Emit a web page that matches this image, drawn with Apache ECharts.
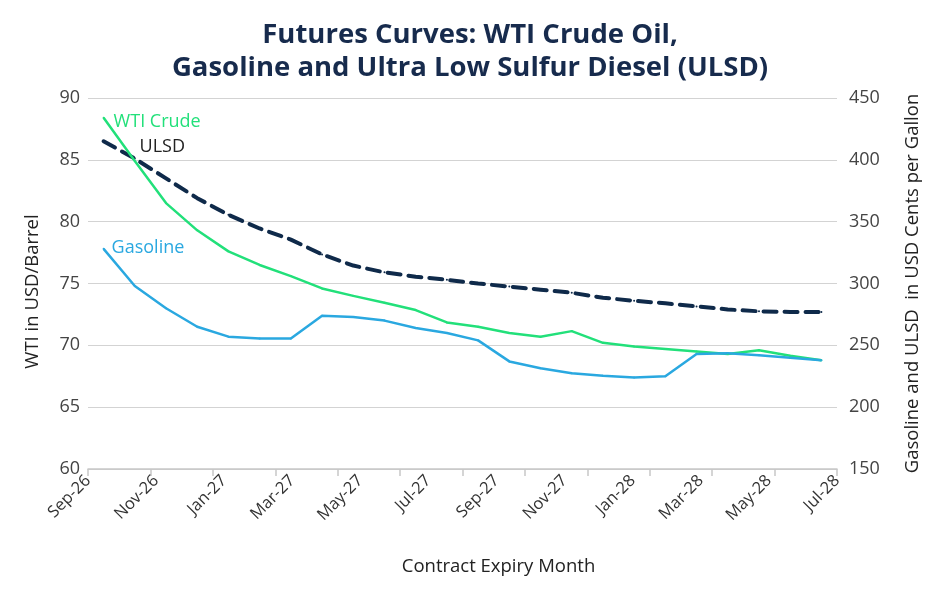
<!DOCTYPE html>
<html>
<head>
<meta charset="utf-8">
<script src="https://cdn.jsdelivr.net/npm/echarts@6/dist/echarts.min.js"></script>
<style>html,body{margin:0;padding:0;background:#fff}#c{width:940px;height:600px}</style>
</head>
<body>
<div id="c"></div>
<script>
// Contract months (data points, mid-month)
var months = ['Sep-26','Oct-26','Nov-26','Dec-26','Jan-27','Feb-27','Mar-27','Apr-27','May-27','Jun-27','Jul-27','Aug-27',
              'Sep-27','Oct-27','Nov-27','Dec-27','Jan-28','Feb-28','Mar-28','Apr-28','May-28','Jun-28','Jul-28','Aug-28'];
// Axis tick labels shown under the chart
var tickLabels = ['Sep-26','Nov-26','Jan-27','Mar-27','May-27','Jul-27','Sep-27','Nov-27','Jan-28','Mar-28','May-28','Jul-28'];
// WTI crude, USD per barrel (left axis)
var wti = [88.4,84.9,81.5,79.3,77.6,76.5,75.6,74.6,74.0,73.45,72.85,71.85,71.5,71.0,70.7,71.15,70.2,69.9,69.7,69.5,69.3,69.6,69.15,68.8];
// Gasoline, US cents per gallon (right axis)
var gasoline = [328,298,280,265,257,255.5,255.5,274,273,270,264,260,254,237,231.5,227.5,225.5,224,225,243,243.5,242,240,238];
// ULSD, US cents per gallon (right axis)
var ulsd = [415,401,385,369,355.5,344.5,335.5,323.5,314.5,309,305.5,303,300,297.5,295,292.5,288.5,286,284,281.5,279,277.5,277,277];

var FONT = '"Open Sans", "Noto Sans", sans-serif';
function startLabel(text, color, offset) {
  return {
    show: true, position: 'right', offset: offset, color: color,
    fontFamily: FONT, fontSize: 18,
    formatter: function (p) { return p.dataIndex === 0 ? text : ''; }
  };
}

var chart = echarts.init(document.getElementById('c'), null, {renderer: 'canvas'});
chart.setOption({
  animation: false,
  backgroundColor: '#ffffff',
  title: {
    text: 'Futures Curves: WTI Crude Oil,\nGasoline and Ultra Low Sulfur Diesel (ULSD)',
    left: 'center', top: 14,
    textStyle: {fontFamily: FONT, fontSize: 27.5, fontWeight: 'bold', color: '#172b4d', lineHeight: 33}
  },
  grid: {left: 88, right: 103, top: 98, bottom: 131},
  xAxis: [{
    type: 'category', data: months, boundaryGap: true, position: 'bottom',
    axisLine: {lineStyle: {color: '#c8c8c8', width: 1.5}},
    axisTick: {show: true, interval: 1, length: 7, lineStyle: {color: '#c8c8c8', width: 1.5}},
    axisLabel: {show: false},
    splitLine: {show: false}
  }, {
    type: 'category', data: tickLabels, boundaryGap: false, position: 'bottom',
    axisLine: {show: false}, axisTick: {show: false},
    axisLabel: {interval: 0, rotate: 45, margin: 9, fontFamily: FONT, fontSize: 16.5, color: '#333'},
    name: 'Contract Expiry Month', nameLocation: 'middle', nameGap: 88,
    nameTextStyle: {fontFamily: FONT, fontSize: 18.5, color: '#222', padding: [0, 0, 0, 72]}
  }],
  yAxis: [{
    type: 'value', min: 60, max: 90, interval: 5, position: 'left',
    axisLine: {show: false}, axisTick: {show: false},
    axisLabel: {fontFamily: FONT, fontSize: 18, color: '#444', margin: 8},
    splitLine: {lineStyle: {color: '#d3d3d3', width: 1.2}},
    name: 'WTI in USD/Barrel', nameLocation: 'middle', nameGap: 46, nameRotate: 90,
    nameTextStyle: {fontFamily: FONT, fontSize: 18.5, color: '#222', padding: [0, 16, 0, 0]}
  }, {
    type: 'value', min: 150, max: 450, interval: 50, position: 'right',
    axisLine: {show: false}, axisTick: {show: false},
    axisLabel: {fontFamily: FONT, fontSize: 18, color: '#444', margin: 12},
    splitLine: {show: false},
    name: 'Gasoline and ULSD  in USD Cents per Gallon', nameLocation: 'middle', nameGap: 66, nameRotate: 90,
    nameTextStyle: {fontFamily: FONT, fontSize: 18.5, color: '#222'}
  }],
  series: [{
    name: 'WTI Crude', type: 'line', data: wti, xAxisIndex: 0, yAxisIndex: 0,
    symbol: 'circle', symbolSize: 2, showSymbol: true, showAllSymbol: true,
    lineStyle: {color: '#22e07a', width: 2.5}, itemStyle: {color: '#22e07a'},
    label: startLabel('WTI Crude', '#22e07a', [4, 4]), z: 3
  }, {
    name: 'Gasoline', type: 'line', data: gasoline, xAxisIndex: 0, yAxisIndex: 1,
    symbol: 'circle', symbolSize: 2, showSymbol: true, showAllSymbol: true,
    lineStyle: {color: '#2aa8e0', width: 2.5}, itemStyle: {color: '#2aa8e0'},
    label: startLabel('Gasoline', '#2aa8e0', [2, -1]), z: 3
  }, {
    name: 'ULSD', type: 'line', data: ulsd, xAxisIndex: 0, yAxisIndex: 1,
    symbol: 'circle', symbolSize: 2, showSymbol: true, showAllSymbol: true,
    lineStyle: {color: '#0f2a4a', width: 4, type: [13, 8], cap: 'round'}, itemStyle: {color: '#0f2a4a'},
    label: startLabel('ULSD', '#222', [30, 6]), z: 2
  }]
});
</script>
</body>
</html>
